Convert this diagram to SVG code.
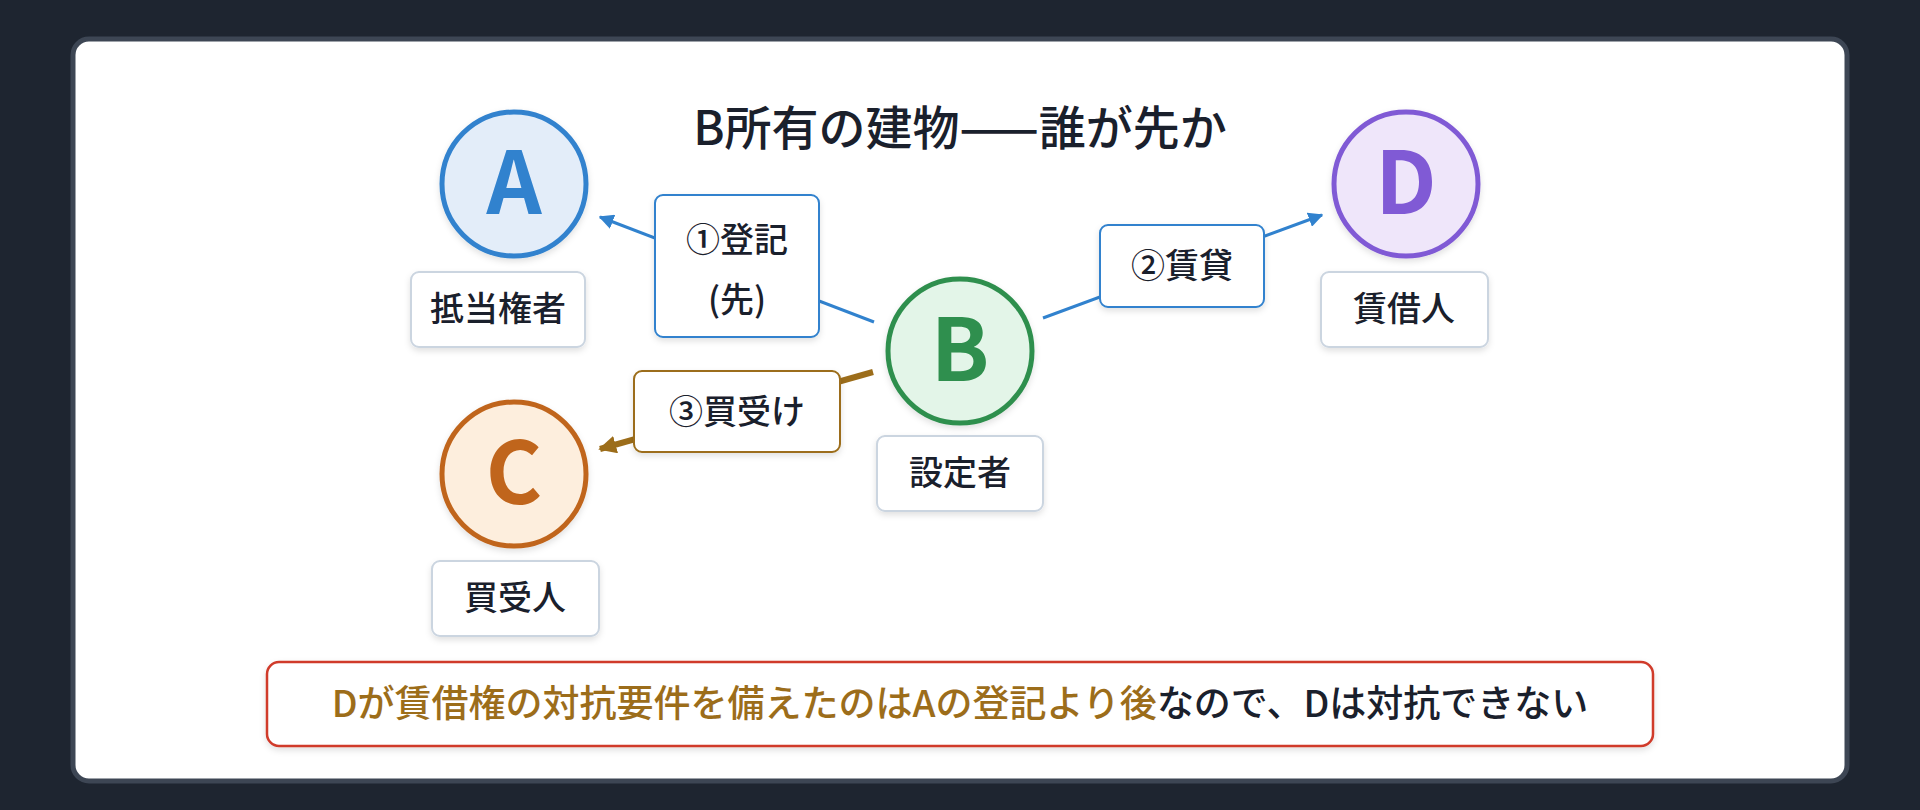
<svg xmlns="http://www.w3.org/2000/svg" width="1920" height="810" viewBox="0 0 1920 810">
<style>
text{font-family:"Noto Sans CJK JP","Noto Sans",sans-serif;fill:#1a202c;text-anchor:middle;font-weight:500}
.lbl{fill:#fff;stroke:#cbd5e0;stroke-width:2}
.lt{font-size:34px}
.el{font-size:34px}
.big{font-size:86px;font-weight:600}
</style>
<defs>
<filter id="sh" x="-20%" y="-20%" width="140%" height="150%"><feDropShadow dx="0" dy="3" stdDeviation="3" flood-color="#000" flood-opacity="0.12"/></filter>
<marker id="mb" viewBox="0 0 10 10" refX="9" refY="5" markerWidth="5" markerHeight="5" orient="auto"><path d="M0,0L10,5L0,10z" fill="#3182ce"/></marker>
<marker id="mg" viewBox="0 0 10 10" refX="9" refY="5" markerWidth="3" markerHeight="3" orient="auto"><path d="M0,0L10,5L0,10z" fill="#9c6d1a"/></marker>
</defs>
<rect width="1920" height="810" fill="#1e2530"/>
<rect x="73" y="39" width="1774" height="742" rx="16" fill="#fff" stroke="#3d4654" stroke-width="5"/>
<text x="960" y="145" style="font-size:47px">B所有の建物——誰が先か</text>
<g id="connectors">
<line x1="874" y1="322" x2="600" y2="217" stroke="#3182ce" stroke-width="3" marker-end="url(#mb)"/>
<line x1="1043" y1="318" x2="1322" y2="215" stroke="#3182ce" stroke-width="3" marker-end="url(#mb)"/>
<line x1="873" y1="372" x2="600" y2="449" stroke="#9c6d1a" stroke-width="6" marker-end="url(#mg)"/>
<g id="e1"><rect x="655" y="195" width="164" height="142" rx="8" fill="#fff" stroke="#3182ce" stroke-width="2" filter="url(#sh)"/><text class="el" x="737" y="252">①登記</text><text class="el" x="737" y="312">(先)</text></g>
<g id="e2"><rect x="1100" y="225" width="164" height="82" rx="8" fill="#fff" stroke="#3182ce" stroke-width="2" filter="url(#sh)"/><text class="el" x="1182" y="278">②賃貸</text></g>
<g id="e3"><rect x="634" y="371" width="206" height="81" rx="8" fill="#fff" stroke="#9c6d1a" stroke-width="2" filter="url(#sh)"/><text class="el" x="737" y="424">③買受け</text></g>
</g>
<g id="A"><circle cx="514" cy="184" r="72" fill="#e3edf9" stroke="#3182ce" stroke-width="5" filter="url(#sh)"/><text class="big" x="514" y="214" style="fill:#3182ce">A</text>
<rect class="lbl" x="411" y="272" width="174" height="75" rx="8" filter="url(#sh)"/><text class="lt" x="498" y="321">抵当権者</text></g>
<g id="D"><circle cx="1406" cy="184" r="72" fill="#efe6fa" stroke="#805ad5" stroke-width="5" filter="url(#sh)"/><text class="big" x="1406" y="214" style="fill:#805ad5">D</text>
<rect class="lbl" x="1321" y="272" width="167" height="75" rx="8" filter="url(#sh)"/><text class="lt" x="1404" y="321">賃借人</text></g>
<g id="B"><circle cx="960" cy="351" r="72" fill="#e3f5e8" stroke="#2f8f4e" stroke-width="5" filter="url(#sh)"/><text class="big" x="960" y="381" style="fill:#2f8f4e">B</text>
<rect class="lbl" x="877" y="436" width="166" height="75" rx="8" filter="url(#sh)"/><text class="lt" x="960" y="485">設定者</text></g>
<g id="C"><circle cx="514" cy="474" r="72" fill="#fdeedd" stroke="#c0651c" stroke-width="5" filter="url(#sh)"/><text class="big" x="514" y="504" style="fill:#c0651c">C</text>
<rect class="lbl" x="432" y="561" width="167" height="75" rx="8" filter="url(#sh)"/><text class="lt" x="515" y="610">買受人</text></g>
<g id="note"><rect x="267" y="662" width="1386" height="84" rx="12" fill="#fff" stroke="#d03a2a" stroke-width="2.5" filter="url(#sh)"/>
<text x="960" y="717" style="font-size:37px"><tspan fill="#9c6d1a">Dが賃借権の対抗要件を備えたのはAの登記より後</tspan>なので、Dは対抗できない</text></g>
</svg>
